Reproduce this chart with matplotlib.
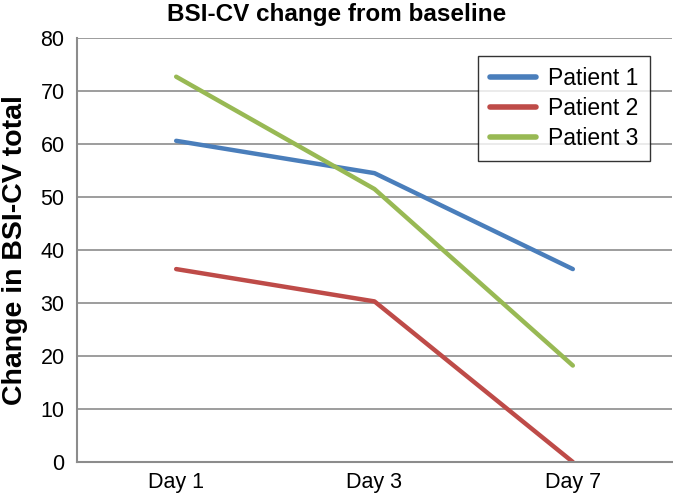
import matplotlib.pyplot as plt

plt.rcParams['font.family'] = ['Liberation Sans', 'DejaVu Sans']

days = ["Day 1", "Day 3", "Day 7"]
patient1 = [60.6, 54.5, 36.4]
patient2 = [36.4, 30.3, 0.0]
patient3 = [72.7, 51.5, 18.2]

fig = plt.figure(figsize=(6.73, 4.94), dpi=100)
ax = fig.add_axes([77 / 673, 1 - 462 / 494, 595 / 673, 424 / 494])

x = range(len(days))
ax.plot(x, patient1, color="#4a7ebb", lw=3.2, label="Patient 1", solid_capstyle="round")
ax.plot(x, patient2, color="#be4b48", lw=3.2, label="Patient 2", solid_capstyle="round")
ax.plot(x, patient3, color="#98b954", lw=3.2, label="Patient 3", solid_capstyle="round")

ax.set_xlim(-0.5, 2.5)
ax.set_ylim(0, 80)
ax.set_yticks(range(0, 81, 10))
ax.set_xticks(list(x))
ax.set_xticklabels(days)
ax.tick_params(axis="both", length=0, labelsize=15.5)
ax.tick_params(axis="y", pad=9)
ax.tick_params(axis="x", pad=7)
ax.grid(axis="y", color="#8c8c8c", lw=1.2)
ax.set_axisbelow(True)
for side in ["top", "right"]:
    ax.spines[side].set_visible(False)
for side in ["left", "bottom"]:
    ax.spines[side].set_color("#8c8c8c")
    ax.spines[side].set_linewidth(1.5)

# title is centred on the whole figure, not the axes
fig.text(0.5, 1 - 15 / 494, "BSI-CV change from baseline", fontsize=17.5,
         fontweight="bold", ha="center", va="center")
ax.set_ylabel("Change in BSI-CV total", fontsize=20.5, fontweight="bold", labelpad=9)

leg = ax.legend(loc="upper right", bbox_to_anchor=(0.963, 0.958), borderaxespad=0,
                fontsize=16.5, frameon=True, fancybox=False, handlelength=2.0,
                handletextpad=0.55, borderpad=0.5, labelspacing=0.3)
leg.get_frame().set_edgecolor("black")
leg.get_frame().set_linewidth(1.0)
for line in leg.get_lines():
    line.set_linewidth(4)

fig.savefig("out.png", dpi=100)
